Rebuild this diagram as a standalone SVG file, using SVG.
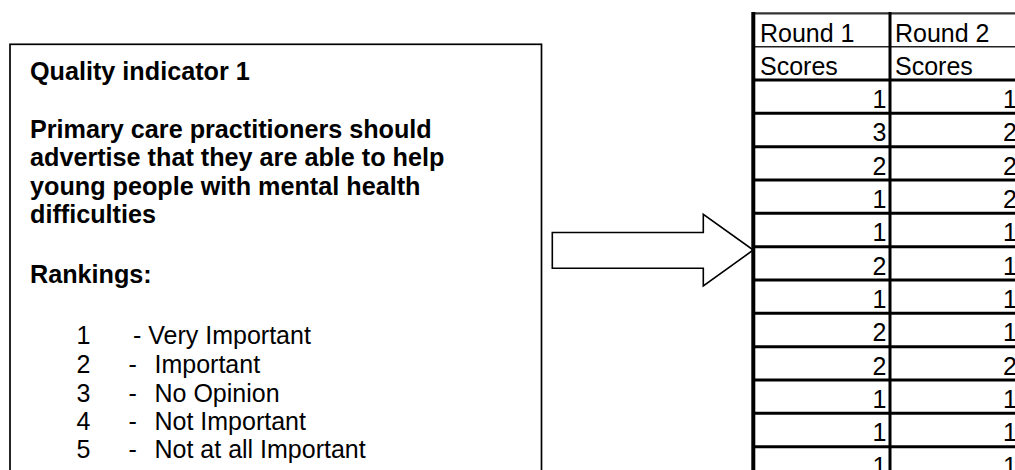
<svg xmlns="http://www.w3.org/2000/svg" width="1015" height="470" viewBox="0 0 1015 470">
  <style>
    .bold { font-family: "Liberation Sans", Arial, sans-serif; font-size: 25.2px; font-weight: bold; fill: #000; }
    .reg { font-family: "Liberation Sans", Arial, sans-serif; font-size: 25px; fill: #000; }
    .num { font-family: "Liberation Sans", Arial, sans-serif; font-size: 25px; fill: #000; text-anchor: end; }
    .rowline { stroke: #000; stroke-width: 3; }
  </style>
  <rect width="1015" height="470" fill="#fff"/>

  <!-- Indicator description box -->
  <g id="indicator-box">
    <rect x="10" y="44.3" width="531.5" height="460" fill="#fff" stroke="#000" stroke-width="1.7"/>
    <text class="bold" x="30" y="80">Quality indicator 1</text>
    <text class="bold" x="30" y="137.7">Primary care practitioners should</text>
    <text class="bold" x="30" y="166">advertise that they are able to help</text>
    <text class="bold" x="30" y="194.5">young people with mental health</text>
    <text class="bold" x="30" y="223">difficulties</text>
    <text class="bold" x="30" y="282.7">Rankings:</text>
    <g class="reg">
      <text x="76.5" y="344.3">1</text><text x="133" y="344.3">- Very Important</text>
      <text x="76.5" y="372.7">2</text><text x="128.5" y="372.7">-</text><text x="154.5" y="372.7">Important</text>
      <text x="76.5" y="401.7">3</text><text x="128.5" y="401.7">-</text><text x="154.5" y="401.7">No Opinion</text>
      <text x="76.5" y="430">4</text><text x="128.5" y="430">-</text><text x="154.5" y="430">Not Important</text>
      <text x="76.5" y="458.3">5</text><text x="128.5" y="458.3">-</text><text x="154.5" y="458.3">Not at all Important</text>
    </g>
  </g>

  <!-- Block arrow leading into the score table -->
  <g id="connectors">
    <polygon points="552.3,232.5 703.3,232.5 703.3,214.3 753.3,250 703.3,286 703.3,268.3 552.3,268.3" fill="#fff" stroke="#000" stroke-width="1.6" stroke-linejoin="miter"/>
  </g>

  <!-- Score table -->
  <g id="scores-table">
    <rect x="753" y="13" width="270" height="460" fill="#fff"/>
    <line x1="753" y1="13.3" x2="1015" y2="13.3" stroke="#333" stroke-width="2.2"/>
    <line x1="753" y1="46.7" x2="1015" y2="46.7" stroke="#222" stroke-width="1.4"/>
    <g class="rowline">
      <line x1="753" y1="80" x2="1015" y2="80"/>
      <line x1="753" y1="113.3" x2="1015" y2="113.3"/>
      <line x1="753" y1="146.7" x2="1015" y2="146.7"/>
      <line x1="753" y1="180" x2="1015" y2="180"/>
      <line x1="753" y1="213.3" x2="1015" y2="213.3"/>
      <line x1="753" y1="246.7" x2="1015" y2="246.7"/>
      <line x1="753" y1="280" x2="1015" y2="280"/>
      <line x1="753" y1="313.3" x2="1015" y2="313.3"/>
      <line x1="753" y1="346.7" x2="1015" y2="346.7"/>
      <line x1="753" y1="380" x2="1015" y2="380"/>
      <line x1="753" y1="413.3" x2="1015" y2="413.3"/>
      <line x1="753" y1="446.7" x2="1015" y2="446.7"/>
    </g>
    <line x1="753.3" y1="12" x2="753.3" y2="470" stroke="#000" stroke-width="4"/>
    <line x1="890" y1="12" x2="890" y2="470" stroke="#000" stroke-width="3"/>

    <text class="reg" x="760" y="42.3">Round 1</text>
    <text class="reg" x="895" y="42.3">Round 2</text>
    <text class="reg" x="760" y="75">Scores</text>
    <text class="reg" x="895" y="75">Scores</text>

    <g class="num">
      <text x="886.5" y="108">1</text><text x="1017" y="108">1</text>
      <text x="886.5" y="141.3">3</text><text x="1017" y="141.3">2</text>
      <text x="886.5" y="174.7">2</text><text x="1017" y="174.7">2</text>
      <text x="886.5" y="208">1</text><text x="1017" y="208">2</text>
      <text x="886.5" y="241.3">1</text><text x="1017" y="241.3">1</text>
      <text x="886.5" y="274.7">2</text><text x="1017" y="274.7">1</text>
      <text x="886.5" y="308">1</text><text x="1017" y="308">1</text>
      <text x="886.5" y="341.3">2</text><text x="1017" y="341.3">1</text>
      <text x="886.5" y="374.7">2</text><text x="1017" y="374.7">2</text>
      <text x="886.5" y="408">1</text><text x="1017" y="408">1</text>
      <text x="886.5" y="441.3">1</text><text x="1017" y="441.3">1</text>
      <text x="886.5" y="474.7">1</text><text x="1017" y="474.7">1</text>
    </g>
  </g>
</svg>
